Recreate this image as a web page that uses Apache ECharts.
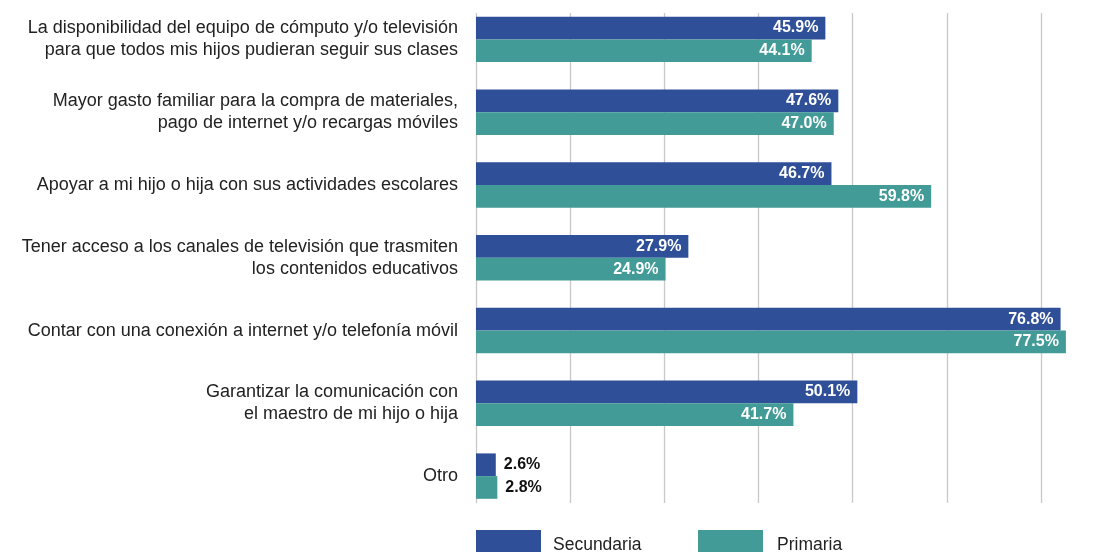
<!DOCTYPE html>
<html>
<head>
<meta charset="utf-8">
<script src="https://cdn.jsdelivr.net/npm/echarts@6/dist/echarts.min.js"></script>
<style>
  html, body { margin: 0; padding: 0; background: #fff; }
  #chart { width: 1107px; height: 552px; }
</style>
</head>
<body>
<div id="chart"></div>
<script>
// Motivos señalados por las familias, por nivel educativo (%)
const categories = [
  'La disponibilidad del equipo de cómputo y/o televisión\npara que todos mis hijos pudieran seguir sus clases',
  'Mayor gasto familiar para la compra de materiales,\npago de internet y/o recargas móviles',
  'Apoyar a mi hijo o hija con sus actividades escolares',
  'Tener acceso a los canales de televisión que trasmiten\nlos contenidos educativos',
  'Contar con una conexión a internet y/o telefonía móvil',
  'Garantizar la comunicación con\nel maestro de mi hijo o hija',
  'Otro'
];
const secundaria = [45.9, 47.6, 46.7, 27.9, 76.8, 50.1, 2.6];
const primaria = [44.1, 47.0, 59.8, 24.9, 77.5, 41.7, 2.8];
const seriesNames = ['Secundaria', 'Primaria'];

const COLORS = ['#2F4F98', '#429B96'];
const LABEL_FONT = '"Liberation Sans", Arial, sans-serif';
const TEXT_FONT = '"Liberation Sans", Arial, sans-serif';

// Small values get their label outside the bar, in dark text
function withLabels(values) {
  return values.map(v => v < 10
    ? { value: v, label: { position: 'right', distance: 8, color: '#111' } }
    : v);
}

function barSeries(name, values, color) {
  return {
    name: name,
    type: 'bar',
    xAxisIndex: 0,
    yAxisIndex: 0,
    data: withLabels(values),
    barWidth: 22.7,
    barGap: '0%',
    itemStyle: { color: color },
    label: {
      show: true,
      position: 'insideRight',
      distance: 7,
      color: '#fff',
      fontFamily: LABEL_FONT,
      fontWeight: 'bold',
      fontSize: 16,
      formatter: p => p.value.toFixed(1) + '%'
    },
    emphasis: { disabled: true }
  };
}

const chart = echarts.init(document.getElementById('chart'), null, { renderer: 'canvas' });
chart.setOption({
  animation: false,
  backgroundColor: '#fff',
  grid: [
    // bars
    { left: 476, right: 0, top: 3, height: 509.5, containLabel: false },
    // vertical guide lines
    { left: 476, right: 0, top: 13, height: 490, containLabel: false }
  ],
  legend: [
    {
      data: [seriesNames[0]],
      left: 476, top: 530, padding: 0,
      itemWidth: 65, itemHeight: 30,
      icon: 'rect',
      textStyle: { fontFamily: TEXT_FONT, fontSize: 17.5, color: '#222', padding: [0, 0, 0, 7] },
      selectedMode: false
    },
    {
      data: [seriesNames[1]],
      left: 698, top: 530, padding: 0,
      itemWidth: 65, itemHeight: 30,
      icon: 'rect',
      textStyle: { fontFamily: TEXT_FONT, fontSize: 17.5, color: '#222', padding: [0, 0, 0, 9] },
      selectedMode: false
    }
  ],
  xAxis: [
    {
      gridIndex: 0, type: 'value', min: 0, max: 82.9,
      show: false, splitLine: { show: false }
    },
    {
      gridIndex: 1, type: 'value', min: 0, max: 6.7, interval: 1,
      axisLine: { show: false }, axisTick: { show: false }, axisLabel: { show: false },
      splitLine: {
        show: true, showMaxLine: false,
        lineStyle: { color: '#c8c8c8', width: 1.3 }
      }
    }
  ],
  yAxis: [
    {
      gridIndex: 0, type: 'category', data: categories, inverse: true,
      axisLine: { show: false }, axisTick: { show: false },
      axisLabel: {
        margin: 18, fontFamily: TEXT_FONT, fontSize: 18, color: '#222',
        lineHeight: 22, align: 'right'
      }
    },
    {
      gridIndex: 1, type: 'value', min: 0, max: 1, show: false
    }
  ],
  series: [
    barSeries(seriesNames[0], secundaria, COLORS[0]),
    barSeries(seriesNames[1], primaria, COLORS[1])
  ]
});
</script>
</body>
</html>
